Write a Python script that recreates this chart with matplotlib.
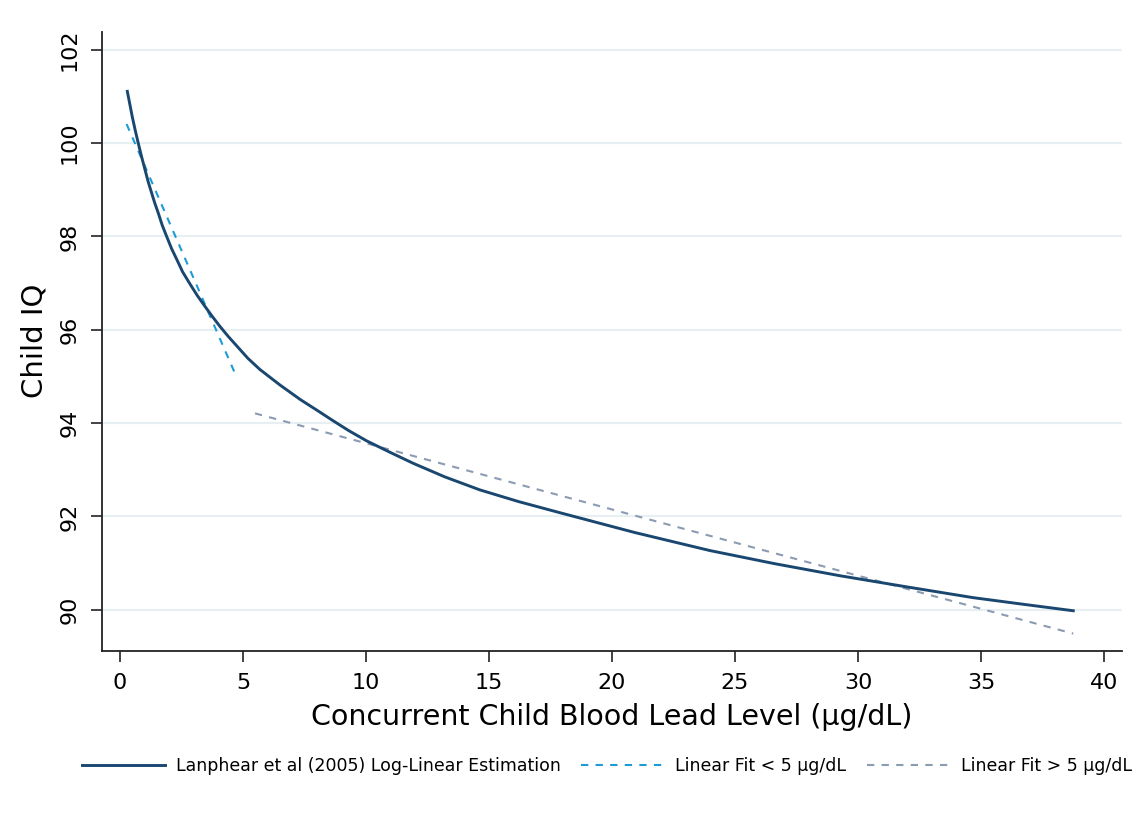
import numpy as np
import matplotlib.pyplot as plt

# Lanphear et al (2005) log-linear curve
lead = [0.30, 0.40, 0.50, 0.62, 0.74, 0.88, 1.02, 1.15, 1.29, 1.42, 1.56, 1.72,
        1.90, 2.10, 2.30, 2.55, 2.85, 3.15, 3.46, 3.75, 4.07, 4.40, 4.74, 5.20,
        5.69, 6.50, 7.32, 8.00, 8.67, 9.30, 10.03, 11.00, 11.92, 13.20, 14.63,
        16.20, 17.89, 20.90, 23.98, 26.60, 29.27, 32.00, 34.69, 36.70, 38.75]
iq = [101.11, 100.84, 100.57, 100.28, 100.01, 99.71, 99.43, 99.17, 98.93, 98.71,
      98.50, 98.24, 98.00, 97.74, 97.52, 97.24, 96.98, 96.73, 96.50, 96.29,
      96.07, 95.86, 95.66, 95.39, 95.15, 94.82, 94.51, 94.28, 94.05, 93.84,
      93.62, 93.37, 93.14, 92.85, 92.57, 92.32, 92.08, 91.66, 91.27, 90.99,
      90.73, 90.49, 90.26, 90.12, 89.98]

# linear fits (end points)
low_x = [0.27, 4.74]
low_y = [100.41, 94.99]
high_x = [5.49, 38.75]
high_y = [94.21, 89.49]

xticks = [0, 5, 10, 15, 20, 25, 30, 35, 40]
yticks = [90, 92, 94, 96, 98, 100, 102]

navy = '#1a476f'
cyan = '#1f9bd3'
slate = '#8a9bb2'
font = ['DejaVu Sans']

fig = plt.figure(figsize=(11.43, 8.26), dpi=100)
ax = fig.add_axes([0.089, 0.212, 0.8924, 0.7497])

for y in yticks:
    ax.axhline(y, color='#e8eff2', lw=1.6, zorder=0)

l1, = ax.plot(lead, iq, color=navy, lw=2.1, zorder=3,
              label='Lanphear et al (2005) Log-Linear Estimation')
l2, = ax.plot(low_x, low_y, color=cyan, lw=1.5, dashes=(3.5, 3.5), zorder=2,
              label='Linear Fit < 5 µg/dL')
l3, = ax.plot(high_x, high_y, color=slate, lw=1.5, dashes=(3.5, 3.5), zorder=2,
              label='Linear Fit > 5 µg/dL')

ax.set_xlim(-0.74, 40.72)
ax.set_ylim(89.12, 102.39)
ax.set_xticks(xticks)
ax.set_yticks(yticks)
for s in ['top', 'right']:
    ax.spines[s].set_visible(False)
for s in ['left', 'bottom']:
    ax.spines[s].set_linewidth(1.3)
    ax.spines[s].set_color('#222222')
ax.tick_params(length=8, width=1.2, color='#222222', labelsize=16, pad=8)
for t in ax.get_xticklabels():
    t.set_family(font)
for t in ax.get_yticklabels():
    t.set_family(font)
    t.set_rotation(90)
    t.set_va('center')

ax.set_xlabel('Concurrent Child Blood Lead Level (µg/dL)', fontsize=20.5,
              family=font, labelpad=7)
ax.set_ylabel('Child IQ', fontsize=21, family=font, labelpad=8)

fig.legend(handles=[l1, l2, l3], loc='center left', bbox_to_anchor=(0.058, 0.073),
           ncol=3, frameon=False, handlelength=4.8, handletextpad=0.6,
           columnspacing=1.2, prop={'family': ['DejaVu Sans'], 'size': 12.5})

fig.savefig('out.png', dpi=100)
